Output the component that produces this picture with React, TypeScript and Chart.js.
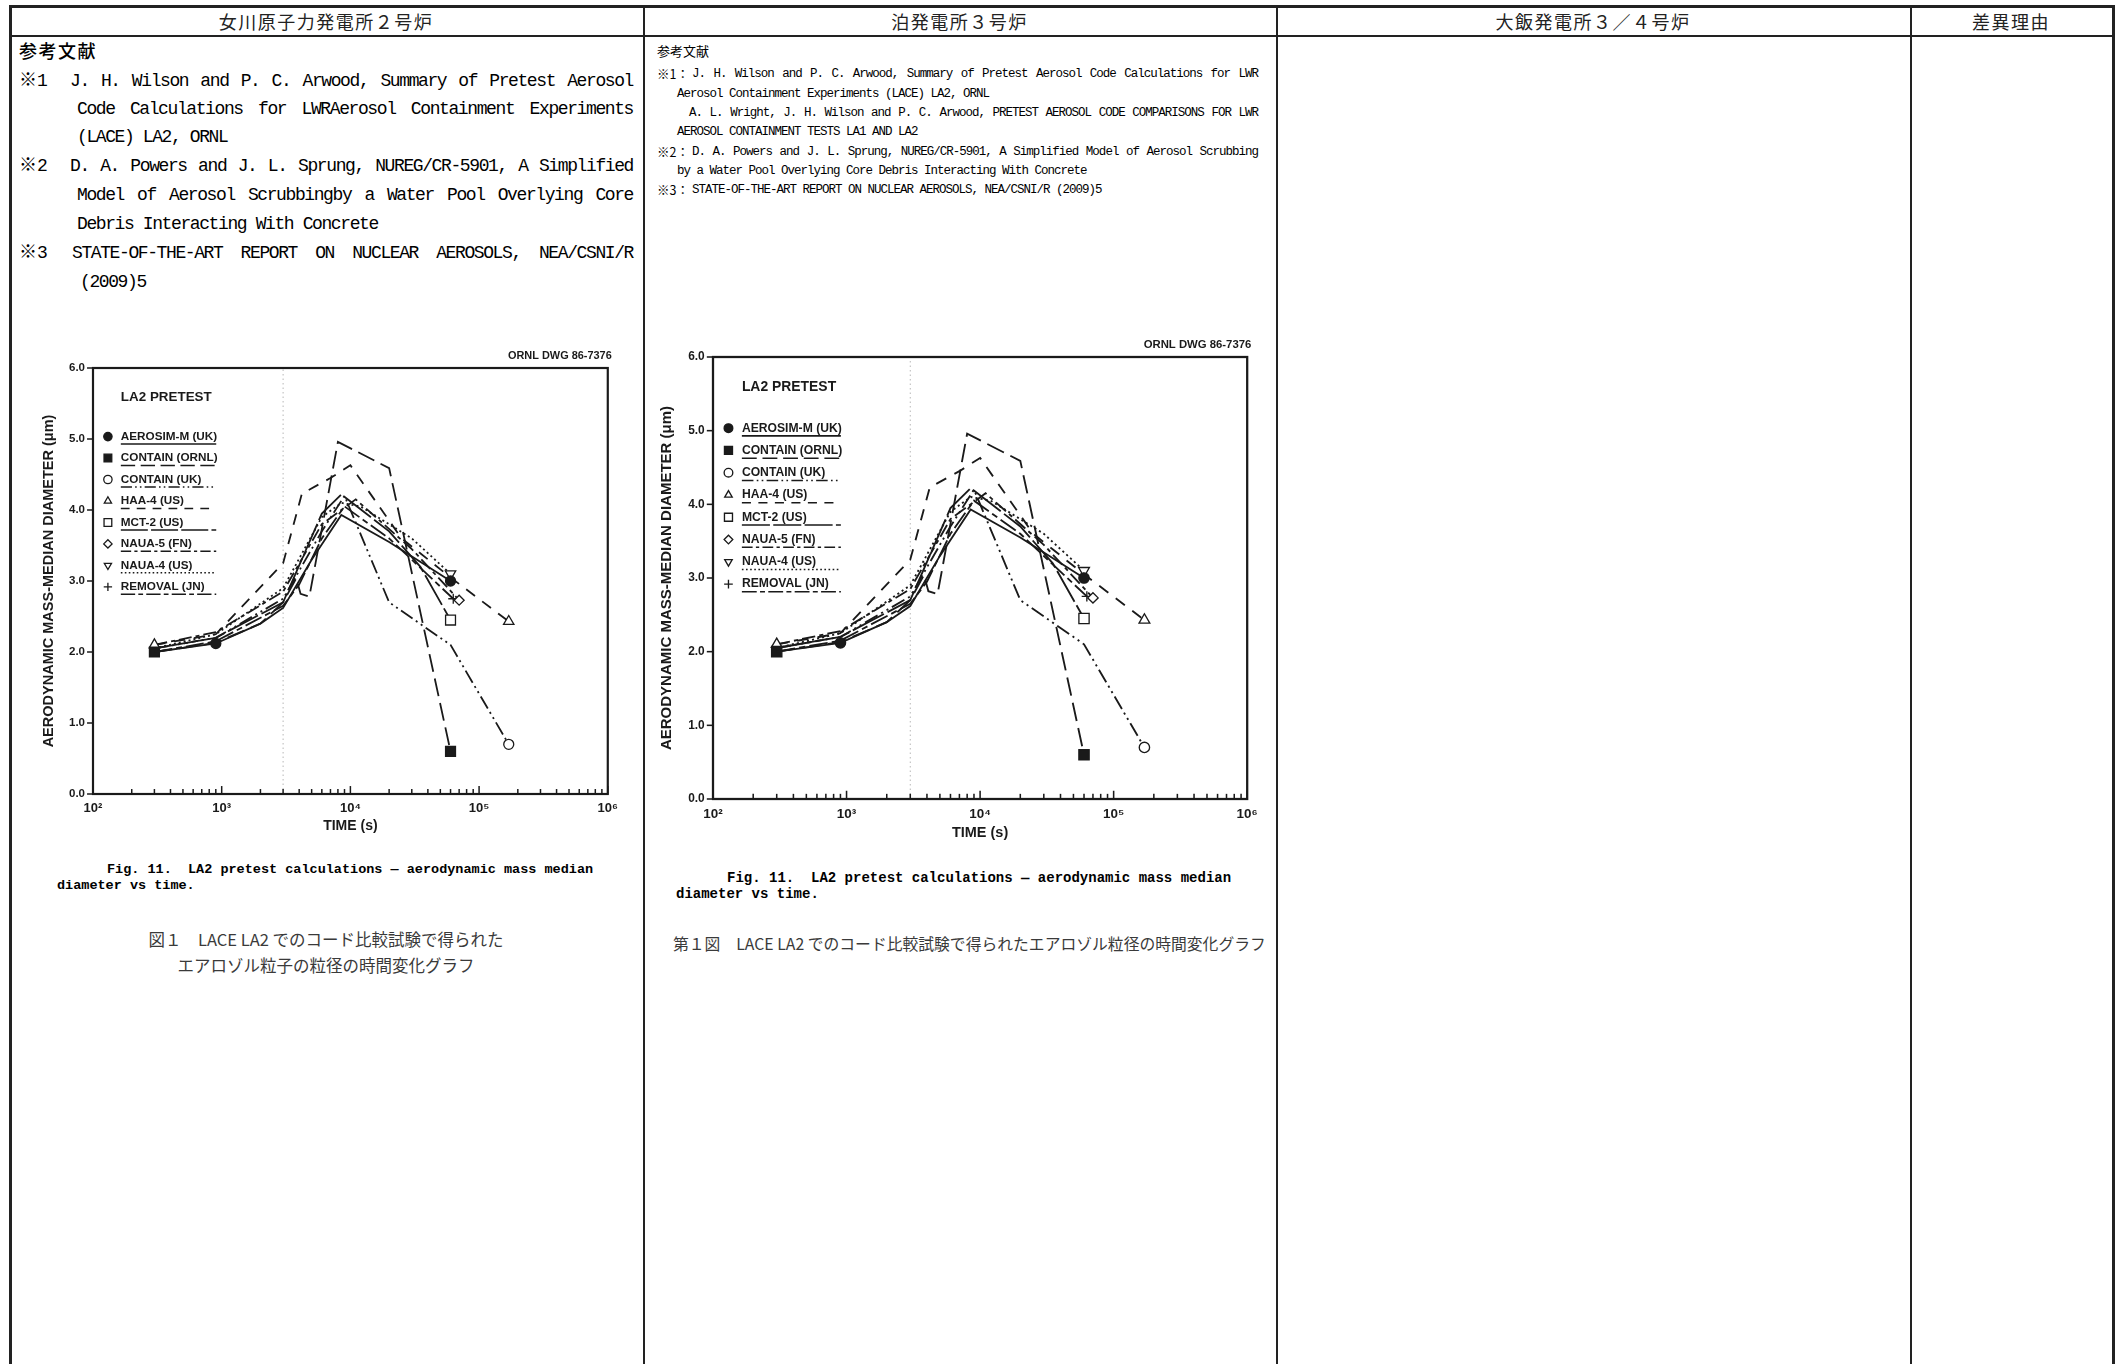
import React, { useEffect, useRef } from 'react';
import { Chart, registerables } from 'chart.js';
import { drawPoint } from 'chart.js/helpers';

Chart.register(...registerables);

// ---------------- data ----------------
const X_TICKS = [100, 1000, 10000, 100000, 1000000];
const X_TICK_LABELS = ['10²', '10³', '10⁴', '10⁵', '10⁶'];
const Y_TICKS = [0, 1, 2, 3, 4, 5, 6];
const Y_TICK_LABELS = ['0.0', '1.0', '2.0', '3.0', '4.0', '5.0', '6.0'];

const SERIES_NAMES = [
  'AEROSIM-M (UK)',
  'CONTAIN (ORNL)',
  'CONTAIN (UK)',
  'HAA-4 (US)',
  'MCT-2 (US)',
  'NAUA-5 (FN)',
  'NAUA-4 (US)',
  'REMOVAL (JN)',
];

const TIME_AEROSIM_M = [300, 900, 2000, 3000, 5000, 8500, 20000, 60000];
const MMD_AEROSIM_M = [2.0, 2.12, 2.4, 2.62, 3.3, 3.93, 3.55, 3.0];

const TIME_CONTAIN_ORNL = [300, 900, 2000, 3000, 3800, 4100, 4800, 8000, 20000, 60000];
const MMD_CONTAIN_ORNL = [2.0, 2.13, 2.4, 2.7, 3.04, 2.82, 2.78, 4.96, 4.59, 0.6];

const TIME_CONTAIN_UK = [300, 900, 3000, 6000, 9000, 20000, 60000, 170000];
const MMD_CONTAIN_UK = [2.05, 2.2, 2.75, 3.7, 4.2, 2.7, 2.1, 0.7];

const TIME_HAA_4 = [300, 900, 3000, 4200, 7000, 10000, 25000, 60000, 170000];
const MMD_HAA_4 = [2.1, 2.25, 3.25, 4.23, 4.45, 4.63, 3.6, 3.05, 2.43];

const TIME_MCT_2 = [300, 900, 3000, 6000, 8500, 20000, 35000, 60000];
const MMD_MCT_2 = [2.05, 2.2, 2.7, 3.95, 4.22, 3.7, 3.2, 2.45];

const TIME_NAUA_5 = [300, 900, 3000, 6000, 11000, 30000, 70000];
const MMD_NAUA_5 = [2.1, 2.28, 2.85, 3.8, 4.15, 3.45, 2.73];

const TIME_NAUA_4 = [300, 900, 3000, 6000, 8500, 12000, 30000, 60000];
const MMD_NAUA_4 = [2.05, 2.25, 2.9, 3.9, 4.1, 4.05, 3.6, 3.1];

const TIME_REMOVAL = [300, 900, 3000, 4000, 6000, 9000, 20000, 63000];
const MMD_REMOVAL = [2.0, 2.15, 2.65, 2.95, 3.6, 4.05, 3.6, 2.75];

const GUIDE_TIME = [3000, 3000];
const GUIDE_MMD = [0, 6];

const SERIES_TIMES = [TIME_AEROSIM_M, TIME_CONTAIN_ORNL, TIME_CONTAIN_UK, TIME_HAA_4, TIME_MCT_2, TIME_NAUA_5, TIME_NAUA_4, TIME_REMOVAL];
const SERIES_MMD = [MMD_AEROSIM_M, MMD_CONTAIN_ORNL, MMD_CONTAIN_UK, MMD_HAA_4, MMD_MCT_2, MMD_NAUA_5, MMD_NAUA_4, MMD_REMOVAL];

// ---------------- styles ----------------
const INK = '#1a1a1a';
type Mk = { dash: number[]; style: string; filled: boolean; marks: number[]; r: number; rot?: number };
const SERIES_STYLE: Mk[] = [
  { dash: [], style: 'circle', filled: true, marks: [1, -1], r: 5 },
  { dash: [18, 7], style: 'rect', filled: true, marks: [0, -1], r: 7 },
  { dash: [14, 4, 2, 4, 2, 4], style: 'circle', filled: false, marks: [-1], r: 5 },
  { dash: [11, 9], style: 'triangle', filled: false, marks: [0, -1], r: 6 },
  { dash: [34, 4], style: 'rect', filled: false, marks: [-1], r: 7 },
  { dash: [13, 4, 4, 4], style: 'rectRot', filled: false, marks: [-1], r: 5 },
  { dash: [2, 3], style: 'triangle', filled: false, marks: [-1], r: 6, rot: 180 },
  { dash: [18, 4, 6, 4], style: 'cross', filled: false, marks: [-1], r: 5 },
];

const SANS = '"Liberation Sans", Arial, Helvetica, sans-serif';
const CJK = '"Noto Sans CJK JP", "Noto Sans", sans-serif';
const MONO = '"Liberation Mono", "DejaVu Sans Mono", "Noto Sans CJK JP", monospace';

type Geo = {
  x: number; y: number; w: number; h: number;
  area: { l: number; t: number; r: number; b: number };
  yTitleCx: number; xTitleCy: number;
};

const LEFT_CHART: Geo = { x: 35, y: 340, w: 590, h: 495, area: { l: 58, t: 28, r: 576, b: 454 }, yTitleCx: 14, xTitleCy: 486 };
const RIGHT_CHART: Geo = { x: 650, y: 325, w: 615, h: 520, area: { l: 63, t: 32, r: 599, b: 474 }, yTitleCx: 17, xTitleCy: 508 };

const paperPlugin = {
  id: 'paperPlugin',
  afterDatasetsDraw(chart: any) {
    const { ctx, chartArea: a, scales } = chart;
    const k = a.width / 518;
    ctx.save();
    ctx.strokeStyle = INK;
    ctx.fillStyle = INK;
    ctx.setLineDash([]);
    ctx.lineWidth = 2.2 * k;
    ctx.strokeRect(a.left, a.top, a.width, a.height);

    ctx.lineWidth = 1.5 * k;
    Y_TICKS.forEach((v) => {
      const py = scales.y.getPixelForValue(v);
      ctx.beginPath();
      ctx.moveTo(a.left - 6 * k, py);
      ctx.lineTo(a.left, py);
      ctx.stroke();
    });
    for (let d = 2; d <= 6; d++) {
      for (let n = 1; n <= 9; n++) {
        if (d === 6 && n > 1) break;
        const px = scales.x.getPixelForValue(n * Math.pow(10, d));
        const len = (n === 1 ? 8 : 5) * k;
        ctx.beginPath();
        ctx.moveTo(px, a.bottom);
        ctx.lineTo(px, a.bottom - len);
        ctx.stroke();
      }
    }

    // in-plot title
    ctx.textBaseline = 'middle';
    ctx.textAlign = 'left';
    ctx.font = `bold ${13.5 * k}px ${SANS}`;
    ctx.fillText('LA2 PRETEST', a.left + 28 * k, a.top + 29 * k);

    // legend
    SERIES_NAMES.forEach((name, i) => {
      const st = SERIES_STYLE[i];
      const cy = a.top + 69 * k + i * 21.6 * k;
      ctx.setLineDash([]);
      ctx.lineWidth = 1.3 * k;
      ctx.fillStyle = st.filled ? INK : '#fff';
      ctx.strokeStyle = INK;
      const r = (st.style === 'rect' ? 5.5 : 4.2) * k;
      drawPoint(ctx, { pointStyle: st.style, radius: r, rotation: st.rot || 0, borderWidth: 1.3 * k } as any, a.left + 15 * k, cy);
      ctx.fillStyle = INK;
      ctx.font = `bold ${11.8 * k}px ${SANS}`;
      ctx.fillText(name, a.left + 28 * k, cy);
      ctx.lineWidth = 1.5 * k;
      ctx.setLineDash(st.dash.map((d) => d * k * 0.8));
      ctx.beginPath();
      ctx.moveTo(a.left + 28 * k, cy + 7.5 * k);
      ctx.lineTo(a.left + 124 * k, cy + 7.5 * k);
      ctx.stroke();
    });

    ctx.setLineDash([]);
    ctx.textAlign = 'right';
    ctx.font = `bold ${11 * k}px ${SANS}`;
    ctx.fillText('ORNL DWG 86-7376', a.right + 4 * k, a.top - 12 * k);
    ctx.restore();
  },
};

function LA2Chart({ geo }: { geo: Geo }) {
  const ref = useRef<HTMLCanvasElement>(null);
  useEffect(() => {
    if (!ref.current) return;
    const { w, h, area } = geo;
    const k = (area.r - area.l) / 518;
    const datasets: any[] = SERIES_TIMES.map((ts, i) => {
      const st = SERIES_STYLE[i];
      const n = ts.length;
      const idx = st.marks.map((m) => (m < 0 ? n + m : m));
      return {
        label: SERIES_NAMES[i],
        data: ts.map((t, j) => ({ x: t, y: SERIES_MMD[i][j] })),
        borderColor: INK,
        borderWidth: 1.8 * k,
        borderDash: st.dash.map((d) => d * k),
        pointRadius: ts.map((_, j) => (idx.includes(j) ? st.r * k : 0)),
        pointStyle: st.style,
        pointRotation: st.rot || 0,
        pointBackgroundColor: st.filled ? INK : '#fff',
        pointBorderColor: INK,
        pointBorderWidth: 1.3 * k,
        tension: 0,
        fill: false,
      };
    });
    datasets.push({
      label: 'guide',
      data: GUIDE_TIME.map((t, j) => ({ x: t, y: GUIDE_MMD[j] })),
      borderColor: '#b8b8b8',
      borderWidth: 1,
      borderDash: [1.5, 3],
      pointRadius: 0,
      fill: false,
    });
    const yFont = { family: SANS, size: 11.5 * k, weight: 'bold' as const };
    const xFont = { family: SANS, size: 13 * k, weight: 'bold' as const };
    const yTitleFont = { family: SANS, size: 14.5 * k, weight: 'bold' as const };
    const xTitleFont = { family: SANS, size: 14 * k, weight: 'bold' as const };
    const chart = new Chart(ref.current, {
      type: 'line',
      data: { datasets },
      plugins: [paperPlugin],
      options: {
        animation: false,
        responsive: false,
        maintainAspectRatio: false,
        layout: { padding: { left: 0, top: area.t, right: w - area.r, bottom: 0 } },
        plugins: { legend: { display: false }, tooltip: { enabled: false } },
        scales: {
          x: {
            type: 'logarithmic',
            min: 100,
            max: 1000000,
            afterBuildTicks: (s: any) => {
              s.ticks = X_TICKS.map((v) => ({ value: v }));
            },
            afterFit: (s: any) => {
              s.height = h - area.b;
            },
            grid: { display: false, drawTicks: false },
            border: { display: false },
            ticks: {
              autoSkip: false,
              maxRotation: 0,
              padding: 7 * k,
              color: INK,
              font: xFont,
              callback: (v: any) => {
                const i = X_TICKS.indexOf(Number(v));
                return i >= 0 ? X_TICK_LABELS[i] : '';
              },
            },
            title: {
              display: true,
              text: 'TIME (s)',
              color: INK,
              font: xTitleFont,
              padding: { top: 0, bottom: Math.max(0, h - geo.xTitleCy - xTitleFont.size * 0.6) },
            },
          },
          y: {
            type: 'linear',
            min: 0,
            max: 6,
            afterBuildTicks: (s: any) => {
              s.ticks = Y_TICKS.map((v) => ({ value: v }));
            },
            afterFit: (s: any) => {
              s.width = area.l;
            },
            grid: { display: false, drawTicks: false },
            border: { display: false },
            ticks: {
              padding: 8 * k,
              color: INK,
              font: yFont,
              callback: (v: any) => {
                const i = Y_TICKS.indexOf(Number(v));
                return i >= 0 ? Y_TICK_LABELS[i] : '';
              },
            },
            title: {
              display: true,
              text: 'AERODYNAMIC MASS-MEDIAN DIAMETER (μm)',
              color: INK,
              font: yTitleFont,
              padding: { top: Math.max(0, geo.yTitleCx - yTitleFont.size * 0.6), bottom: 0 },
            },
          },
        },
      } as any,
    });
    return () => chart.destroy();
  }, [geo]);
  return (
    <div style={{ position: 'absolute', left: geo.x, top: geo.y, width: geo.w, height: geo.h }}>
      <canvas ref={ref} width={geo.w} height={geo.h} style={{ width: geo.w, height: geo.h, display: 'block' }} />
    </div>
  );
}

// ---------------- page text ----------------
const HEADERS = ['女川原子力発電所２号炉', '泊発電所３号炉', '大飯発電所３／４号炉', '差異理由'];
const COL_EDGES = [9, 643, 1276, 1910, 2112];

function T(props: { x: number; cy: number; size: number; font: string; children: any; style?: any }) {
  const lh = props.size * 1.3;
  return (
    <div
      style={{
        position: 'absolute',
        left: props.x,
        top: props.cy - lh / 2,
        fontSize: props.size,
        lineHeight: `${lh}px`,
        fontFamily: props.font,
        whiteSpace: 'pre',
        color: '#000',
        ...(props.style || {}),
      }}
    >
      {props.children}
    </div>
  );
}

function J(props: { x: number; cy: number; w: number; size: number; font: string; children: any; style?: any }) {
  const lh = props.size * 1.3;
  return (
    <div
      style={{
        position: 'absolute',
        left: props.x,
        top: props.cy - lh / 2,
        width: props.w,
        fontSize: props.size,
        lineHeight: `${lh}px`,
        fontFamily: props.font,
        textAlign: 'justify',
        textAlignLast: 'justify',
        color: '#000',
        ...(props.style || {}),
      }}
    >
      {props.children}
    </div>
  );
}

export default function App() {
  const line = '#222';
  const leftRefStyle = { letterSpacing: '-1.4px' };
  const rightRefStyle = { letterSpacing: '-1.0px' };
  return (
    <div style={{ position: 'absolute', left: 0, top: 0, width: 2116, height: 1364, overflow: 'hidden', background: '#fff' }}>
      {/* table lines */}
      <div style={{ position: 'absolute', left: 9, top: 5, width: 2104, height: 3, background: line }} />
      <div style={{ position: 'absolute', left: 9, top: 35, width: 2104, height: 2, background: line }} />
      {COL_EDGES.map((x, i) => (
        <div key={i} style={{ position: 'absolute', left: x, top: 5, width: i === 0 || i === 4 ? 2.5 : 1.5, height: 1364, background: line }} />
      ))}
      {HEADERS.map((h, i) => (
        <div
          key={h}
          style={{
            position: 'absolute',
            left: COL_EDGES[i],
            width: COL_EDGES[i + 1] - COL_EDGES[i],
            top: 8,
            height: 27,
            lineHeight: '27px',
            textAlign: 'center',
            fontFamily: CJK,
            fontSize: 18,
            letterSpacing: '1.5px',
            color: '#222',
          }}
        >
          {h}
        </div>
      ))}

      {/* left references */}
      <T x={19} cy={51} size={18} font={CJK} style={{ letterSpacing: '1.5px', fontWeight: 500 }}>参考文献</T>
      <T x={19} cy={82} size={18} font={MONO}>※1</T>
      <J x={70} cy={82} w={563} size={18} font={MONO} style={leftRefStyle}>J. H. Wilson and P. C. Arwood, Summary of Pretest Aerosol</J>
      <J x={77} cy={110} w={556} size={18} font={MONO} style={leftRefStyle}>Code Calculations for LWRAerosol Containment Experiments</J>
      <T x={77} cy={138} size={18} font={MONO} style={leftRefStyle}>(LACE) LA2, ORNL</T>
      <T x={19} cy={167} size={18} font={MONO}>※2</T>
      <J x={70} cy={167} w={563} size={18} font={MONO} style={leftRefStyle}>D. A. Powers and J. L. Sprung, NUREG/CR-5901, A Simplified</J>
      <J x={77} cy={196} w={556} size={18} font={MONO} style={leftRefStyle}>Model of Aerosol Scrubbingby a Water Pool Overlying Core</J>
      <T x={77} cy={225} size={18} font={MONO} style={leftRefStyle}>Debris Interacting With Concrete</T>
      <T x={19} cy={254} size={18} font={MONO}>※3</T>
      <J x={72} cy={254} w={561} size={18} font={MONO} style={leftRefStyle}>STATE-OF-THE-ART REPORT ON NUCLEAR AEROSOLS, NEA/CSNI/R</J>
      <T x={80} cy={283} size={18} font={MONO} style={leftRefStyle}>(2009)5</T>

      {/* right references */}
      <T x={657} cy={51} size={13} font={CJK}>参考文献</T>
      <T x={657} cy={74} size={12.5} font={CJK}>※1：</T>
      <J x={692} cy={74} w={566} size={12.5} font={MONO} style={rightRefStyle}>J. H. Wilson and P. C. Arwood, Summary of Pretest Aerosol Code Calculations for LWR</J>
      <T x={677} cy={94} size={12.5} font={MONO} style={rightRefStyle}>Aerosol Containment Experiments (LACE) LA2, ORNL</T>
      <J x={689} cy={113} w={569} size={12.5} font={MONO} style={rightRefStyle}>A. L. Wright, J. H. Wilson and P. C. Arwood, PRETEST AEROSOL CODE COMPARISONS FOR LWR</J>
      <T x={677} cy={132} size={12.5} font={MONO} style={rightRefStyle}>AEROSOL CONTAINMENT TESTS LA1 AND LA2</T>
      <T x={657} cy={152} size={12.5} font={CJK}>※2：</T>
      <J x={692} cy={152} w={566} size={12.5} font={MONO} style={rightRefStyle}>D. A. Powers and J. L. Sprung, NUREG/CR-5901, A Simplified Model of Aerosol Scrubbing</J>
      <T x={677} cy={171} size={12.5} font={MONO} style={rightRefStyle}>by a Water Pool Overlying Core Debris Interacting With Concrete</T>
      <T x={657} cy={190} size={12.5} font={CJK}>※3：</T>
      <T x={692} cy={190} size={12.5} font={MONO} style={rightRefStyle}>STATE-OF-THE-ART REPORT ON NUCLEAR AEROSOLS, NEA/CSNI/R (2009)5</T>

      {/* charts */}
      <LA2Chart geo={LEFT_CHART} />
      <LA2Chart geo={RIGHT_CHART} />

      {/* captions left */}
      <T x={107} cy={870} size={13.5} font={MONO} style={{ fontWeight: 'bold' }}>Fig. 11.  LA2 pretest calculations — aerodynamic mass median</T>
      <T x={57} cy={886} size={13.5} font={MONO} style={{ fontWeight: 'bold' }}>diameter vs time.</T>
      <div style={{ position: 'absolute', left: 9, width: 634, top: 926, textAlign: 'center', fontFamily: CJK, fontSize: 16.5, lineHeight: '26px', color: '#3a3a3a', fontWeight: 400 }}>
        <div>図１　LACE LA2 でのコード比較試験で得られた</div>
        <div>エアロゾル粒子の粒径の時間変化グラフ</div>
      </div>

      {/* captions right */}
      <T x={727} cy={878} size={14} font={MONO} style={{ fontWeight: 'bold' }}>Fig. 11.  LA2 pretest calculations — aerodynamic mass median</T>
      <T x={676} cy={894} size={14} font={MONO} style={{ fontWeight: 'bold' }}>diameter vs time.</T>
      <T x={673} cy={944} size={15.8} font={CJK} style={{ color: '#3a3a3a', fontWeight: 400 }}>第１図　LACE LA2 でのコード比較試験で得られたエアロゾル粒径の時間変化グラフ</T>
    </div>
  );
}
